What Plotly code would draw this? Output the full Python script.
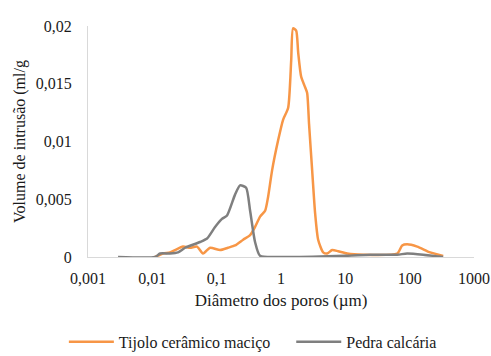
import plotly.graph_objects as go

# Pore diameter (µm) and intrusion volume (ml/g) per material
tijolo_diam = [0.0110, 0.0147, 0.0188, 0.0225, 0.0300, 0.0386, 0.0495, 0.0614, 0.0789,
               0.113, 0.150, 0.193, 0.258, 0.331, 0.395, 0.473, 0.566, 0.630, 0.727,
               0.902, 1.08, 1.29, 1.44, 1.54, 1.72, 1.85, 2.06, 2.37, 2.55, 2.73,
               3.05, 3.39, 3.78, 4.52, 5.21, 6.24, 7.73, 10.7, 18.9, 64.0, 76.4,
               91.4, 131, 208, 332]
tijolo_vol = [0.0, 0.0003, 0.0004, 0.0006, 0.0009, 0.0008, 0.0009, 0.0003, 0.0008,
              0.0006, 0.0008, 0.0010, 0.0015, 0.0019, 0.0026, 0.0035, 0.0040, 0.0052, 0.0075,
              0.0101, 0.0119, 0.0129, 0.0170, 0.0198, 0.0196, 0.0177, 0.0156, 0.0147, 0.0142, 0.0115,
              0.0075, 0.0038, 0.0015, 0.0004, 0.0003, 0.0006, 0.0005, 0.0003, 0.0002, 0.0003, 0.0010,
              0.0011, 0.0009, 0.0004, 0.0001]

pedra_diam = [0.00293, 0.0110, 0.0132, 0.0188, 0.0251, 0.0323, 0.0552, 0.0709, 0.0944,
              0.121, 0.145, 0.193, 0.231, 0.287, 0.331, 0.395, 0.473, 1.0, 10.0,
              24.3, 64.0, 91.4, 162, 332]
pedra_vol = [0.0, 0.0, 0.0003, 0.0003, 0.0004, 0.0008, 0.0013, 0.0016, 0.0026,
             0.0033, 0.0036, 0.0054, 0.0062, 0.0060, 0.0040, 0.0013, 0.0001, 0.0, 0.0001,
             0.0002, 0.0002, 0.0003, 0.0002, 0.0]

x_tickvals = [0.001, 0.01, 0.1, 1, 10, 100, 1000]
x_ticktext = ["0,001", "0,01", "0,1", "1", "10", "100", "1000"]
y_tickvals = [0, 0.005, 0.01, 0.015, 0.02]
y_ticktext = ["0", "0,005", "0,01", "0,015", "0,02"]

SERIF = "Liberation Serif, Times New Roman, serif"
TXT = "#1a1a1a"
font = dict(family=SERIF, size=16, color=TXT)

fig = go.Figure()
fig.add_trace(go.Scatter(
    x=tijolo_diam, y=tijolo_vol, mode="lines",
    name="Tijolo cerâmico maciço\u00a0\u00a0\u00a0\u00a0",
    line=dict(color="#F79646", width=2.5, shape="spline", smoothing=0.6),
))
fig.add_trace(go.Scatter(
    x=pedra_diam, y=pedra_vol, mode="lines", name="Pedra calcária",
    line=dict(color="#7F7F7F", width=2.5, shape="spline", smoothing=0.6),
))

fig.update_layout(
    width=491, height=356,
    margin=dict(l=88, r=17, t=26, b=99, autoexpand=False),
    paper_bgcolor="white", plot_bgcolor="white",
    font=font,
    showlegend=True,
    legend=dict(orientation="h", xref="container", yref="container",
                x=0.515, xanchor="center", y=0.04, yanchor="middle",
                font=dict(family=SERIF, size=16, color=TXT), itemwidth=45,
                traceorder="normal"),
    xaxis=dict(
        type="log", range=[-3, 3], automargin=False,
        tickvals=x_tickvals, ticktext=x_ticktext,
        tickfont=dict(family=SERIF, size=16, color=TXT),
        showgrid=False, zeroline=False,
        showline=True, linecolor="#D9D9D9", linewidth=1,
        ticks="", ticklabelstandoff=7,
        title=dict(text="Diâmetro dos poros (µm)",
                   font=dict(family=SERIF, size=17, color=TXT), standoff=7),
    ),
    yaxis=dict(
        range=[0, 0.02], automargin=False,
        tickvals=y_tickvals, ticktext=y_ticktext,
        tickfont=dict(family=SERIF, size=16, color=TXT),
        showgrid=False, zeroline=False,
        showline=True, linecolor="#D9D9D9", linewidth=1,
        ticks="", ticklabelstandoff=12,
        title=dict(text="Volume de intrusão (ml/g",
                   font=dict(family=SERIF, size=16, color=TXT), standoff=6),
    ),
)

fig.write_html("out.html")
